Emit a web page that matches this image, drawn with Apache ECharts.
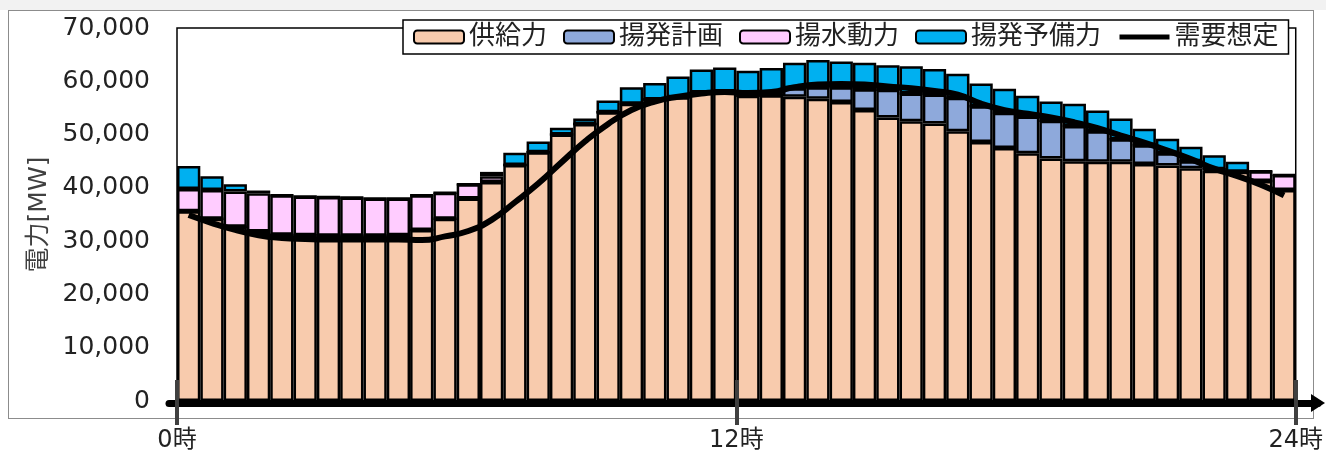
<!DOCTYPE html>
<html>
<head>
<meta charset="utf-8">
<script src="https://cdn.jsdelivr.net/npm/echarts@6/dist/echarts.min.js"></script>
<style>
  html, body { margin: 0; padding: 0; background: #fff; }
  #band { position: absolute; left: 0; top: 0; width: 1326px; height: 10px; background: #f2f2f2; }
  #frame { position: absolute; left: 8px; top: 10px; width: 1304px; height: 407px; border: 1px solid #8c8c8c; }
  #chart { position: absolute; left: 0; top: 0; width: 1326px; height: 453px; }
</style>
</head>
<body>
<div id="band"></div>
<div id="frame"></div>
<div id="chart"></div>
<script>
// Half-hourly slots, 0:00 .. 23:30
const times = [];
for (let h = 0; h < 24; h++) { times.push(h + ':00'); times.push(h + ':30'); }

// Tick labels along the time axis (every 12 hours)
const hourLabels = ['0時', '12時', '24時'];

// 供給力 [MW]
const supply = [35600, 34200, 32700, 31800, 31200, 31100, 31000, 31000, 31000, 31100, 32100, 34200,
  38000, 41100, 44300, 46700, 50000, 52000, 54200, 55800, 56600, 57000, 57900, 58100,
  57300, 57400, 57100, 56700, 56100, 54600, 53200, 52500, 52100, 50600, 48600, 47500,
  46500, 45500, 45000, 44900, 44900, 44500, 44200, 43700, 43200, 43000, 41300, 39600];

// 揚発計画 [MW]
const pumpedGenPlan = [0, 0, 0, 0, 0, 0, 0, 0, 0, 0, 0, 0,
  0, 0, 0, 0, 0, 0, 0, 0, 0, 0, 0, 0,
  0, 0, 1600, 2200, 2800, 3900, 5200, 5200, 5400, 6300, 6700, 6600,
  6900, 7100, 6600, 5700, 4200, 3500, 2300, 1300, 300, 0, 0, 0];

// 揚水動力 [MW]
const pumpingPower = [4200, 5400, 6600, 7200, 7400, 7300, 7300, 7200, 7000, 6900, 6500, 4900,
  2700, 1100, 0, 0, 0, 0, 0, 0, 0, 0, 0, 0,
  0, 0, 0, 0, 0, 0, 0, 0, 0, 0, 0, 0,
  0, 0, 0, 0, 0, 0, 0, 0, 0, 0, 1800, 2800];

// 揚発予備力 [MW]
const pumpedGenReserve = [4300, 2600, 1400, 500, 0, 0, 0, 0, 0, 0, 0, 0,
  0, 800, 2300, 2000, 1300, 1000, 2200, 3100, 3100, 3900, 4300, 4500,
  4700, 5100, 4800, 5100, 4800, 5000, 4600, 5100, 4800, 4500, 4300, 4500,
  3900, 3600, 4200, 3900, 3900, 3100, 2700, 2700, 2600, 1900, 0, 0];

// 需要想定 [MW]
const demand = [34900, 33400, 32100, 31100, 30600, 30400, 30300, 30300, 30300, 30300, 30200, 30900,
  31900, 34000, 37300, 40800, 44800, 48700, 52000, 54600, 56200, 57100, 57700, 58000,
  57800, 58000, 58900, 59400, 59500, 59400, 59000, 58700, 58200, 57500, 55800, 54600,
  53900, 53200, 52300, 51200, 49800, 48500, 47000, 45400, 43600, 42200, 40600, 38600];

const FONT = '"DejaVu Sans", "Noto Sans CJK JP", sans-serif';
const tickStyle = { color: '#404040', width: 4 };

function barSeries(name, data, color) {
  return {
    name: name, type: 'bar', stack: 'total', data: data,
    xAxisIndex: 0, yAxisIndex: 0,
    barCategoryGap: '0%',
    itemStyle: { color: color, borderColor: '#000', borderWidth: 2.5 }
  };
}

const chart = echarts.init(document.getElementById('chart'), null, { renderer: 'canvas' });
chart.setOption({
  animation: false,
  backgroundColor: 'transparent',
  textStyle: { fontFamily: FONT },
  legend: {
    left: 403, top: 20,
    padding: [4, 10],
    itemGap: 16, itemWidth: 50, itemHeight: 13,
    borderColor: '#000', borderWidth: 1.5,
    backgroundColor: '#fff',
    textStyle: { fontSize: 26, color: '#222', fontFamily: FONT },
    data: ['供給力', '揚発計画', '揚水動力', '揚発予備力', {
      name: '需要想定',
      itemStyle: { color: 'rgba(0,0,0,0)', borderWidth: 0, opacity: 0 },
      lineStyle: { color: '#000', width: 5 }
    }]
  },
  grid: [
    { left: 177, top: 28, right: 28, bottom: 50, show: true, borderColor: '#000', borderWidth: 1.5 },
    { left: 169, top: 28, right: 8, bottom: 50, show: false }
  ],
  xAxis: [
    { type: 'category', gridIndex: 0, data: times, show: false },
    {
      type: 'value', gridIndex: 0, position: 'bottom', min: 0, max: 24, interval: 12, z: 10,
      axisLine: { show: false }, splitLine: { show: false },
      axisTick: { show: true, length: 24, lineStyle: tickStyle },
      axisLabel: {
        margin: 28, fontSize: 24, color: '#222', fontFamily: FONT,
        formatter: function (v) { return hourLabels[v / 12]; }
      }
    },
    {
      type: 'value', gridIndex: 0, position: 'bottom', min: 0, max: 24, interval: 12, z: 10,
      axisLine: { show: false }, splitLine: { show: false },
      axisTick: { show: true, inside: true, length: 21, lineStyle: tickStyle },
      axisLabel: { show: false }
    },
    {
      type: 'value', gridIndex: 1, position: 'bottom', min: 0, max: 1, z: 9,
      axisLine: {
        show: true, onZero: false,
        lineStyle: { color: '#000', width: 7 },
        symbol: ['none', 'triangle'], symbolSize: [18, 14]
      },
      axisTick: { show: false }, axisLabel: { show: false }, splitLine: { show: false }
    }
  ],
  yAxis: [
    {
      type: 'value', gridIndex: 0, min: 0, max: 70000, interval: 10000,
      axisLine: { show: false }, axisTick: { show: false }, splitLine: { show: false },
      axisLabel: {
        margin: 27, fontSize: 25, color: '#222', fontFamily: FONT,
        formatter: function (v) { return v.toLocaleString('en-US'); }
      },
      name: '電力[MW]', nameLocation: 'middle', nameRotate: 90, nameGap: 125,
      nameTextStyle: { fontSize: 25, color: '#404040', fontFamily: FONT }
    },
    { type: 'value', gridIndex: 1, show: false }
  ],
  series: [
    barSeries('供給力', supply, '#F8CBAD'),
    barSeries('揚発計画', pumpedGenPlan, '#8EA9DB'),
    barSeries('揚水動力', pumpingPower, '#FFCCFF'),
    barSeries('揚発予備力', pumpedGenReserve, '#00B0F0'),
    {
      name: '需要想定', type: 'line', data: demand,
      xAxisIndex: 0, yAxisIndex: 0,
      smooth: true, showSymbol: false, symbol: 'none', z: 5,
      lineStyle: { color: '#000', width: 6 },
      itemStyle: { color: '#000' }
    }
  ]
});
</script>
</body>
</html>
